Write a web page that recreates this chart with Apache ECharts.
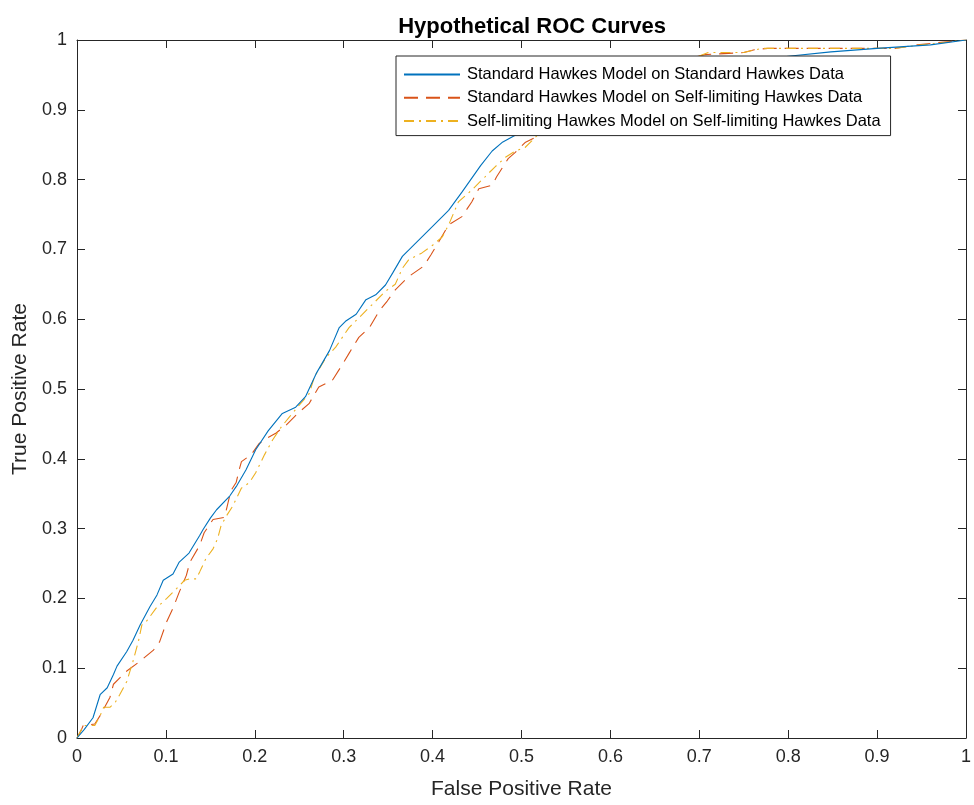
<!DOCTYPE html>
<html>
<head>
<meta charset="utf-8">
<title>Hypothetical ROC Curves</title>
<script src="https://cdn.jsdelivr.net/npm/echarts@6/dist/echarts.min.js"></script>
<style>
  html, body { margin: 0; padding: 0; background: #fff; }
  #chart { width: 974px; height: 805px; }
</style>
</head>
<body>
<div id="chart"></div>
<script>
// Series names shown in the legend
const seriesNames = [
  'Standard Hawkes Model on Standard Hawkes Data',
  'Standard Hawkes Model on Self-limiting Hawkes Data',
  'Self-limiting Hawkes Model on Self-limiting Hawkes Data'
];

// ROC points as [false positive rate, true positive rate]
const stdOnStd = [
  [0,0],[0.008,0.012],[0.018,0.029],[0.026,0.062],[0.034,0.072],[0.041,0.091],
  [0.045,0.103],[0.056,0.124],[0.063,0.140],[0.071,0.162],[0.082,0.188],[0.090,0.205],
  [0.097,0.226],[0.108,0.235],[0.115,0.252],[0.126,0.265],[0.138,0.290],[0.142,0.299],
  [0.150,0.315],[0.157,0.327],[0.172,0.347],[0.180,0.362],[0.190,0.384],[0.201,0.413],
  [0.215,0.440],[0.231,0.465],[0.246,0.474],[0.257,0.489],[0.269,0.522],[0.284,0.555],
  [0.295,0.588],[0.302,0.597],[0.314,0.607],[0.325,0.628],[0.336,0.635],[0.347,0.649],
  [0.355,0.666],[0.366,0.690],[0.377,0.704],[0.396,0.728],[0.407,0.742],[0.418,0.756],
  [0.433,0.782],[0.454,0.820],[0.467,0.841],[0.478,0.853],[0.495,0.865],[0.530,0.895],
  [0.570,0.920],[0.620,0.940],[0.680,0.955],[0.740,0.968],[0.803,0.977],[0.848,0.983],
  [0.900,0.988],[0.960,0.993],[1,1]
];

const stdOnSelfLim = [
  [0,0],[0.005,0.012],[0.007,0.018],[0.020,0.020],[0.026,0.032],[0.037,0.058],
  [0.041,0.077],[0.052,0.091],[0.056,0.096],[0.071,0.110],[0.086,0.126],[0.093,0.138],
  [0.101,0.167],[0.108,0.186],[0.115,0.209],[0.123,0.233],[0.127,0.252],[0.138,0.276],
  [0.143,0.294],[0.153,0.313],[0.166,0.316],[0.173,0.354],[0.179,0.366],[0.183,0.387],
  [0.185,0.396],[0.196,0.406],[0.205,0.422],[0.213,0.429],[0.224,0.437],[0.235,0.448],
  [0.250,0.467],[0.261,0.479],[0.272,0.503],[0.287,0.512],[0.299,0.536],[0.306,0.551],
  [0.317,0.574],[0.329,0.588],[0.340,0.612],[0.349,0.626],[0.358,0.642],[0.373,0.661],
  [0.390,0.676],[0.398,0.692],[0.407,0.711],[0.418,0.735],[0.433,0.747],[0.444,0.768],
  [0.452,0.787],[0.467,0.792],[0.472,0.804],[0.485,0.830],[0.493,0.839],[0.504,0.853],
  [0.515,0.860],[0.519,0.865],[0.550,0.890],[0.590,0.920],[0.630,0.945],[0.670,0.965],
  [0.700,0.977],[0.706,0.979],[0.750,0.982],[0.762,0.986],[0.777,0.988],[0.920,0.988],
  [0.945,0.993],[0.975,0.997],[1,1]
];

const selfLimOnSelfLim = [
  [0,0],[0.005,0.012],[0.008,0.018],[0.020,0.018],[0.026,0.032],[0.030,0.044],
  [0.037,0.044],[0.043,0.051],[0.048,0.062],[0.056,0.081],[0.063,0.110],[0.069,0.138],
  [0.073,0.162],[0.078,0.167],[0.089,0.186],[0.101,0.200],[0.112,0.214],[0.121,0.226],
  [0.127,0.228],[0.134,0.228],[0.138,0.238],[0.145,0.257],[0.153,0.271],[0.158,0.285],
  [0.162,0.304],[0.168,0.318],[0.175,0.332],[0.185,0.358],[0.194,0.366],[0.201,0.380],
  [0.211,0.406],[0.220,0.427],[0.230,0.446],[0.239,0.460],[0.250,0.477],[0.261,0.493],
  [0.267,0.517],[0.280,0.545],[0.291,0.560],[0.306,0.588],[0.321,0.607],[0.336,0.626],
  [0.347,0.640],[0.358,0.650],[0.366,0.673],[0.373,0.685],[0.388,0.695],[0.400,0.706],
  [0.411,0.718],[0.418,0.735],[0.429,0.768],[0.444,0.785],[0.459,0.804],[0.470,0.818],
  [0.482,0.832],[0.493,0.841],[0.504,0.846],[0.512,0.856],[0.519,0.865],[0.550,0.885],
  [0.590,0.915],[0.630,0.940],[0.670,0.962],[0.700,0.977],[0.710,0.982],[0.750,0.982],
  [0.770,0.988],[0.920,0.988],[0.950,0.993],[0.980,0.997],[1,1]
];

// Tick labels shared by both rate axes
const rateTicks = ['0','0.1','0.2','0.3','0.4','0.5','0.6','0.7','0.8','0.9','1'];

const FONT = '"Liberation Sans", Arial, Helvetica, sans-serif';
const AXIS_COLOR = '#262626';

function tickLabel(v) {
  return rateTicks[Math.round(v * 10)];
}

function rateAxis(pos, showLabels, name) {
  const horizontal = pos === 'bottom' || pos === 'top';
  return {
    type: 'value',
    position: pos,
    min: 0,
    max: 1,
    interval: 0.1,
    name: name || '',
    nameLocation: 'middle',
    nameGap: horizontal ? 41 : 43,
    nameTextStyle: { fontFamily: FONT, fontSize: 21, color: AXIS_COLOR },
    axisLine: { show: true, onZero: false, lineStyle: { color: AXIS_COLOR, width: 1 } },
    axisTick: { show: true, inside: true, length: 8, lineStyle: { color: AXIS_COLOR, width: 1 } },
    axisLabel: {
      show: showLabels,
      margin: 10,
      fontFamily: FONT,
      fontSize: 18,
      color: AXIS_COLOR,
      formatter: tickLabel
    },
    splitLine: { show: false }
  };
}

const chart = echarts.init(document.getElementById('chart'), null, { renderer: 'canvas' });

chart.setOption({
  animation: false,
  backgroundColor: '#ffffff',
  title: {
    text: 'Hypothetical ROC Curves',
    left: 527,
    top: 11,
    textAlign: 'center',
    textStyle: { fontFamily: FONT, fontSize: 22, fontWeight: 'bold', color: '#000' }
  },
  grid: { left: 77, top: 40, right: 5, bottom: 61, containLabel: false },
  legend: {
    orient: 'vertical',
    left: 396,
    top: 56,
    padding: [10, 10, 6, 7],
    itemWidth: 56,
    itemHeight: 12,
    itemGap: 6.3,
    backgroundColor: '#ffffff',
    borderColor: AXIS_COLOR,
    borderWidth: 1,
    borderRadius: 0,
    // line sample only, no marker dot on the legend icons
    itemStyle: { opacity: 0 },
    textStyle: { fontFamily: FONT, fontSize: 16.5, color: '#000', padding: [0, 0, 0, 2] },
    data: seriesNames
  },
  xAxis: [
    rateAxis('bottom', true, 'False Positive Rate'),
    rateAxis('top', false)
  ],
  yAxis: [
    rateAxis('left', true, 'True Positive Rate'),
    rateAxis('right', false)
  ],
  series: [
    {
      name: seriesNames[0],
      type: 'line',
      xAxisIndex: 0, yAxisIndex: 0,
      data: stdOnStd,
      symbol: 'none',
      showSymbol: false,
      lineStyle: { color: '#0072BD', width: 1.1, type: 'solid' },
      itemStyle: { color: '#0072BD' },
      z: 3
    },
    {
      name: seriesNames[1],
      type: 'line',
      xAxisIndex: 0, yAxisIndex: 0,
      data: stdOnSelfLim,
      symbol: 'none',
      showSymbol: false,
      lineStyle: { color: '#D95319', width: 1.1, type: [14, 8] },
      itemStyle: { color: '#D95319' },
      z: 2
    },
    {
      name: seriesNames[2],
      type: 'line',
      xAxisIndex: 0, yAxisIndex: 0,
      data: selfLimOnSelfLim,
      symbol: 'none',
      showSymbol: false,
      lineStyle: { color: '#EDB120', width: 1.1, type: [10, 5, 2, 5] },
      itemStyle: { color: '#EDB120' },
      z: 2
    }
  ]
});
</script>
</body>
</html>
